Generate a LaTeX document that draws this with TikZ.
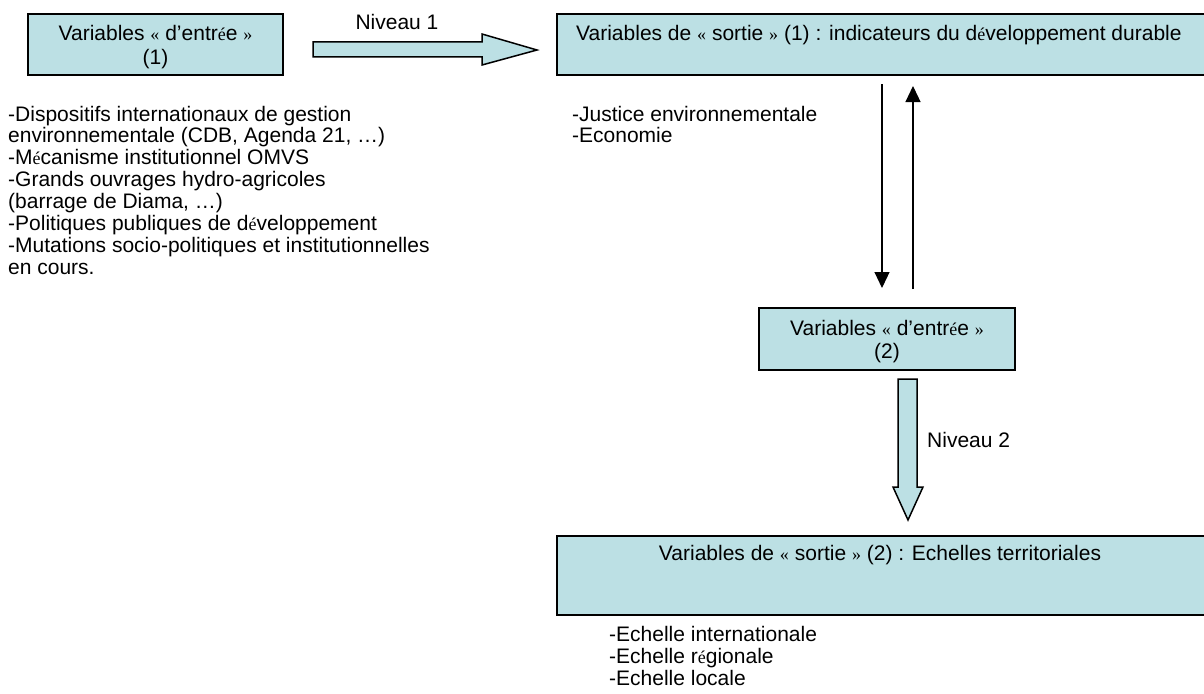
\documentclass[tikz,border=0pt]{standalone}
\usepackage{fontspec}
\setmainfont{Liberation Sans}
\newfontfamily\serifglyph{Liberation Serif}
\newcommand{\sg}[1]{{\serifglyph\fontsize{18}{18}\selectfont #1}}
\usetikzlibrary{arrows.meta,calc}
\definecolor{boxfill}{RGB}{188,224,228}
\begin{document}
\begin{tikzpicture}[x=1pt,y=-1pt,
  box/.style={draw=black,line width=1.5pt,fill=boxfill,inner sep=0pt,outer sep=0pt},
  txt/.style={font=\fontsize{21}{22}\selectfont,inner sep=0pt},
  listtxt/.style={font=\fontsize{21}{21.9}\selectfont,inner sep=0pt,align=left,anchor=base west},
  thinarrow/.style={line width=1.2pt,-{Triangle[width=15pt,length=16pt]}},
  bigarrow/.style={draw=black,line width=1.5pt,fill=boxfill,line join=miter}]
\useasboundingbox (0,0) rectangle (1204,693);
% input box 1
\node[box,minimum width=255pt,minimum height=61pt] (in1) at (155.5,44.5) {};
\node[txt,anchor=base] (in1a) at (155.5,41) {Variables \sg{«} d’entr\sg{é}e \sg{»}};
\node[txt,anchor=base] (in1b) at (155.5,64) {(1)};
% big arrow level 1
\draw[bigarrow] (313,42) -- (482,42) -- (482,34) -- (537,50) -- (482,65) -- (482,57) -- (313,57) -- cycle;
\node[txt,anchor=base] (niv1) at (397,30) {Niveau 1};
% output box 1
\node[box,minimum width=660pt,minimum height=61pt,anchor=north west] (out1) at (557,14) {};
\node[txt,anchor=base west] (out1t) at (576,41) {Variables de \sg{«} sortie \sg{»} (1) : indicateurs du d\sg{é}veloppement durable};
% left list (anchored at last line baseline)
\node[listtxt] (llist) at (8,274.3) {-Dispositifs internationaux de gestion\\environnementale (CDB, Agenda 21, …)\\-M\sg{é}canisme institutionnel OMVS\\-Grands ouvrages hydro-agricoles\\(barrage de Diama, …)\\-Politiques publiques de d\sg{é}veloppement\\-Mutations socio-politiques et institutionnelles\\en cours.};
% right list
\node[listtxt] (rlist) at (572,142.9) {-Justice environnementale\\-Economie};
% input box 2
\node[box,minimum width=256pt,minimum height=62pt] (in2) at (887,339) {};
\node[txt,anchor=base] (in2a) at (887,335) {Variables \sg{«} d’entr\sg{é}e \sg{»}};
\node[txt,anchor=base] (in2b) at (887,358) {(2)};
% thin arrows
\coordinate (dx) at (882,0);
\coordinate (ux) at (913,0);
\draw[thinarrow] ($(out1.south -| dx)+(0,9)$) -- ($(in2.north -| dx)+(0,-20)$);
\draw[thinarrow] ($(in2.north -| ux)+(0,-19)$) -- ($(out1.south -| ux)+(0,11)$);
% big arrow level 2
\draw[bigarrow] (898,379) -- (898,487) -- (893,487) -- (908,520) -- (923,487) -- (917,487) -- (917,379) -- cycle;
\node[txt,anchor=base west] (niv2) at (927,447) {Niveau 2};
% output box 2
\node[box,minimum width=670pt,minimum height=79pt,anchor=north west] (out2) at (557,536) {};
\node[txt,anchor=base] (out2t) at (880,560) {Variables de \sg{«} sortie \sg{»} (2) : Echelles territoriales};
% bottom list
\node[listtxt] (blist) at (609,685) {-Echelle internationale\\-Echelle r\sg{é}gionale\\-Echelle locale};
\end{tikzpicture}
\end{document}
